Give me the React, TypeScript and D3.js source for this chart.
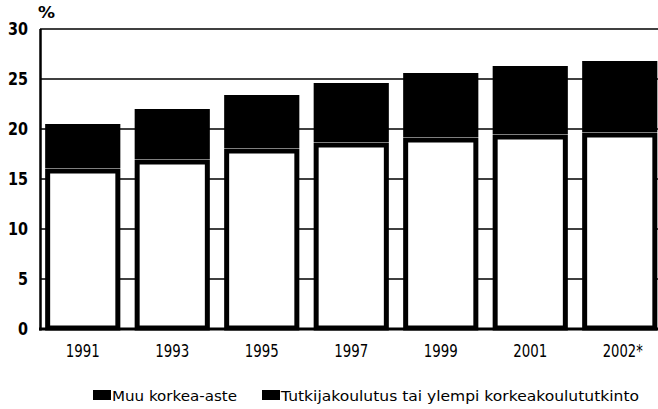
import { useEffect, useRef } from "react";
import * as d3 from "d3";

const years = ["1991", "1993", "1995", "1997", "1999", "2001", "2002*"];
// Muu korkea-aste (lower, white segment)
const muu = [15.8, 16.7, 17.8, 18.4, 18.9, 19.2, 19.4];
// Tutkijakoulutus tai ylempi korkeakoulututkinto (upper, black segment)
const ylempi = [4.7, 5.3, 5.6, 6.2, 6.7, 7.1, 7.4];
const yTicks = [0, 5, 10, 15, 20, 25, 30];
const legendLabels = ["Muu korkea-aste", "Tutkijakoulutus tai ylempi korkeakoulututkinto"];

const FONT = "'DejaVu Sans', sans-serif";

export default function App() {
  const svgRef = useRef<SVGSVGElement>(null);

  useEffect(() => {
    const svg = d3.select(svgRef.current);
    svg.selectAll("*").remove();
    const width = 658;
    const height = 409;

    const x = d3.scaleBand().domain(years).range([38, 664.5]).paddingInner(0.16).paddingOuter(0.08);
    const y = d3.scaleLinear().domain([0, 30]).range([329, 29]);

    const g = svg.append("g");

    // gridlines
    g.selectAll(".grid")
      .data(yTicks.filter((t) => t > 0))
      .enter()
      .append("line")
      .attr("x1", 40)
      .attr("x2", width)
      .attr("y1", (d) => y(d))
      .attr("y2", (d) => y(d))
      .attr("stroke", "#000")
      .attr("stroke-width", 1.5);

    const rows = years.map((yr, i) => ({ yr, a: muu[i], b: ylempi[i] }));

    // white lower segments with heavy outline
    g.selectAll(".low")
      .data(rows)
      .enter()
      .append("rect")
      .attr("x", (d) => x(d.yr)! + 2.5)
      .attr("width", x.bandwidth() - 5)
      .attr("y", (d) => y(d.a))
      .attr("height", (d) => y(0) - y(d.a) - 1)
      .attr("fill", "#fff")
      .attr("stroke", "#000")
      .attr("stroke-width", 5);

    // black upper segments
    g.selectAll(".high")
      .data(rows)
      .enter()
      .append("rect")
      .attr("x", (d) => x(d.yr)!)
      .attr("width", x.bandwidth())
      .attr("y", (d) => y(d.a + d.b))
      .attr("height", (d) => y(d.a) - y(d.a + d.b) - 3)
      .attr("fill", "#000");

    // axes
    g.append("line")
      .attr("x1", 40.5).attr("x2", 40.5)
      .attr("y1", y(30)).attr("y2", y(0) + 1.5)
      .attr("stroke", "#000").attr("stroke-width", 2.5);
    g.append("line")
      .attr("x1", 39).attr("x2", width)
      .attr("y1", y(0)).attr("y2", y(0))
      .attr("stroke", "#000").attr("stroke-width", 3);

    // y labels
    g.selectAll(".ylab")
      .data(yTicks)
      .enter()
      .append("text")
      .attr("x", 28)
      .attr("y", (d) => y(d))
      .attr("dy", "0.36em")
      .attr("text-anchor", "end")
      .attr("font-family", FONT)
      .attr("font-weight", "bold")
      .attr("font-size", 17)
      .attr("textLength", (d) => (d >= 10 ? 20 : 10))
      .attr("lengthAdjust", "spacingAndGlyphs")
      .text((d) => d);

    g.append("text")
      .attr("x", 38)
      .attr("y", 18)
      .attr("font-family", FONT)
      .attr("font-weight", "bold")
      .attr("font-size", 16)
      .attr("textLength", 17)
      .attr("lengthAdjust", "spacingAndGlyphs")
      .text("%");

    // x labels
    g.selectAll(".xlab")
      .data(years)
      .enter()
      .append("text")
      .attr("x", (d) => x(d)! + x.bandwidth() / 2 + (d.endsWith("*") ? 3 : 0))
      .attr("y", 357)
      .attr("text-anchor", "middle")
      .attr("font-family", FONT)
      .attr("font-size", 18)
      .attr("textLength", (d) => (d.endsWith("*") ? 40 : 34))
      .attr("lengthAdjust", "spacingAndGlyphs")
      .text((d) => d);

    // legend
    const lx = [93, 262];
    const lw = [125, 358];
    legendLabels.forEach((lab, i) => {
      g.append("rect")
        .attr("x", lx[i])
        .attr("y", 390)
        .attr("width", 18)
        .attr("height", 10)
        .attr("fill", "#000");
      g.append("text")
        .attr("x", lx[i] + 19)
        .attr("y", 401)
        .attr("font-family", FONT)
        .attr("font-size", 14.5)
        .attr("textLength", lw[i])
        .attr("lengthAdjust", "spacingAndGlyphs")
        .text(lab);
    });

    svg.attr("width", width).attr("height", height);
  }, []);

  return (
    <div style={{ position: "absolute", left: 0, top: 0, width: 658, height: 409, overflow: "hidden", background: "#fff" }}>
      <svg ref={svgRef} width={658} height={409} style={{ display: "block" }} />
    </div>
  );
}
